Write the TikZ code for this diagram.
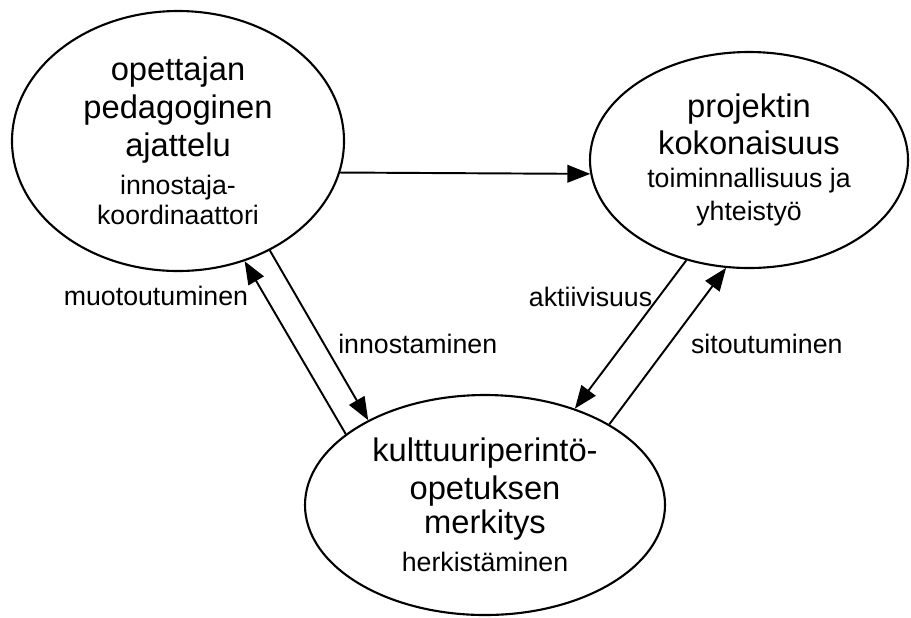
\documentclass[tikz,border=0pt]{standalone}
\usepackage{fontspec}
\setmainfont{Liberation Sans}
\usetikzlibrary{shapes.geometric, arrows.meta}
\newcommand{\bigtxt}{\fontsize{18.6}{21.6}\selectfont}
\newcommand{\smalltxt}{\fontsize{15.2}{21.6}\selectfont}

\begin{document}
\begin{tikzpicture}[
	  idea/.style={ellipse, draw=black, line width=1.2pt, inner sep=0pt, align=center, font=\smalltxt},
	  arrow/.style={line width=1.1pt, -{Triangle[length=13pt, width=10pt]}},
	  lbl/.style={font=\smalltxt}
	]
	\useasboundingbox (0,0) rectangle (18.22,-12.34);

	\node (opettaja) [idea, minimum width=6.64cm, minimum height=5.2cm] at (3.56,-2.82) {\bigtxt opettajan\\\bigtxt pedagoginen\\\bigtxt ajattelu\\\smalltxt innostaja-\\[-4.5pt]\smalltxt koordinaattori};
	\node (projekti) [idea, minimum width=6.36cm, minimum height=4.32cm] at (14.98,-3.2) {\bigtxt projektin\\[-0.5pt]\bigtxt kokonaisuus\\[-3pt]\smalltxt toiminnallisuus ja\\[-3pt]\smalltxt yhteistyö};
	\node (perinto) [idea, minimum width=7.2cm, minimum height=4.4cm] at (9.7,-10.1) {\bigtxt kulttuuriperintö-\\\bigtxt opetuksen\\[-2.5pt]\bigtxt merkitys\\\smalltxt herkistäminen};

	\draw [arrow] (opettaja.-11.7) -- (projekti.-175.2);
	\draw [arrow] (perinto.153.9) -- node[lbl, anchor=east, pos=0.8, xshift=-0.2cm] {muotoutuminen} (opettaja.-61.3);
	\draw [arrow] (opettaja.-50.5) -- node[lbl, anchor=west, pos=0.55, xshift=0.15cm] {innostaminen} (perinto.144.1);
	\draw [arrow] (projekti.-122.1) -- node[lbl, anchor=east, pos=0.245] {aktiivisuus} (perinto.47.9);
	\draw [arrow] (perinto.33.8) -- node[lbl, anchor=west, pos=0.513, xshift=0.3cm] {sitoutuminen} (projekti.-102.5);

\end{tikzpicture}
\end{document}
